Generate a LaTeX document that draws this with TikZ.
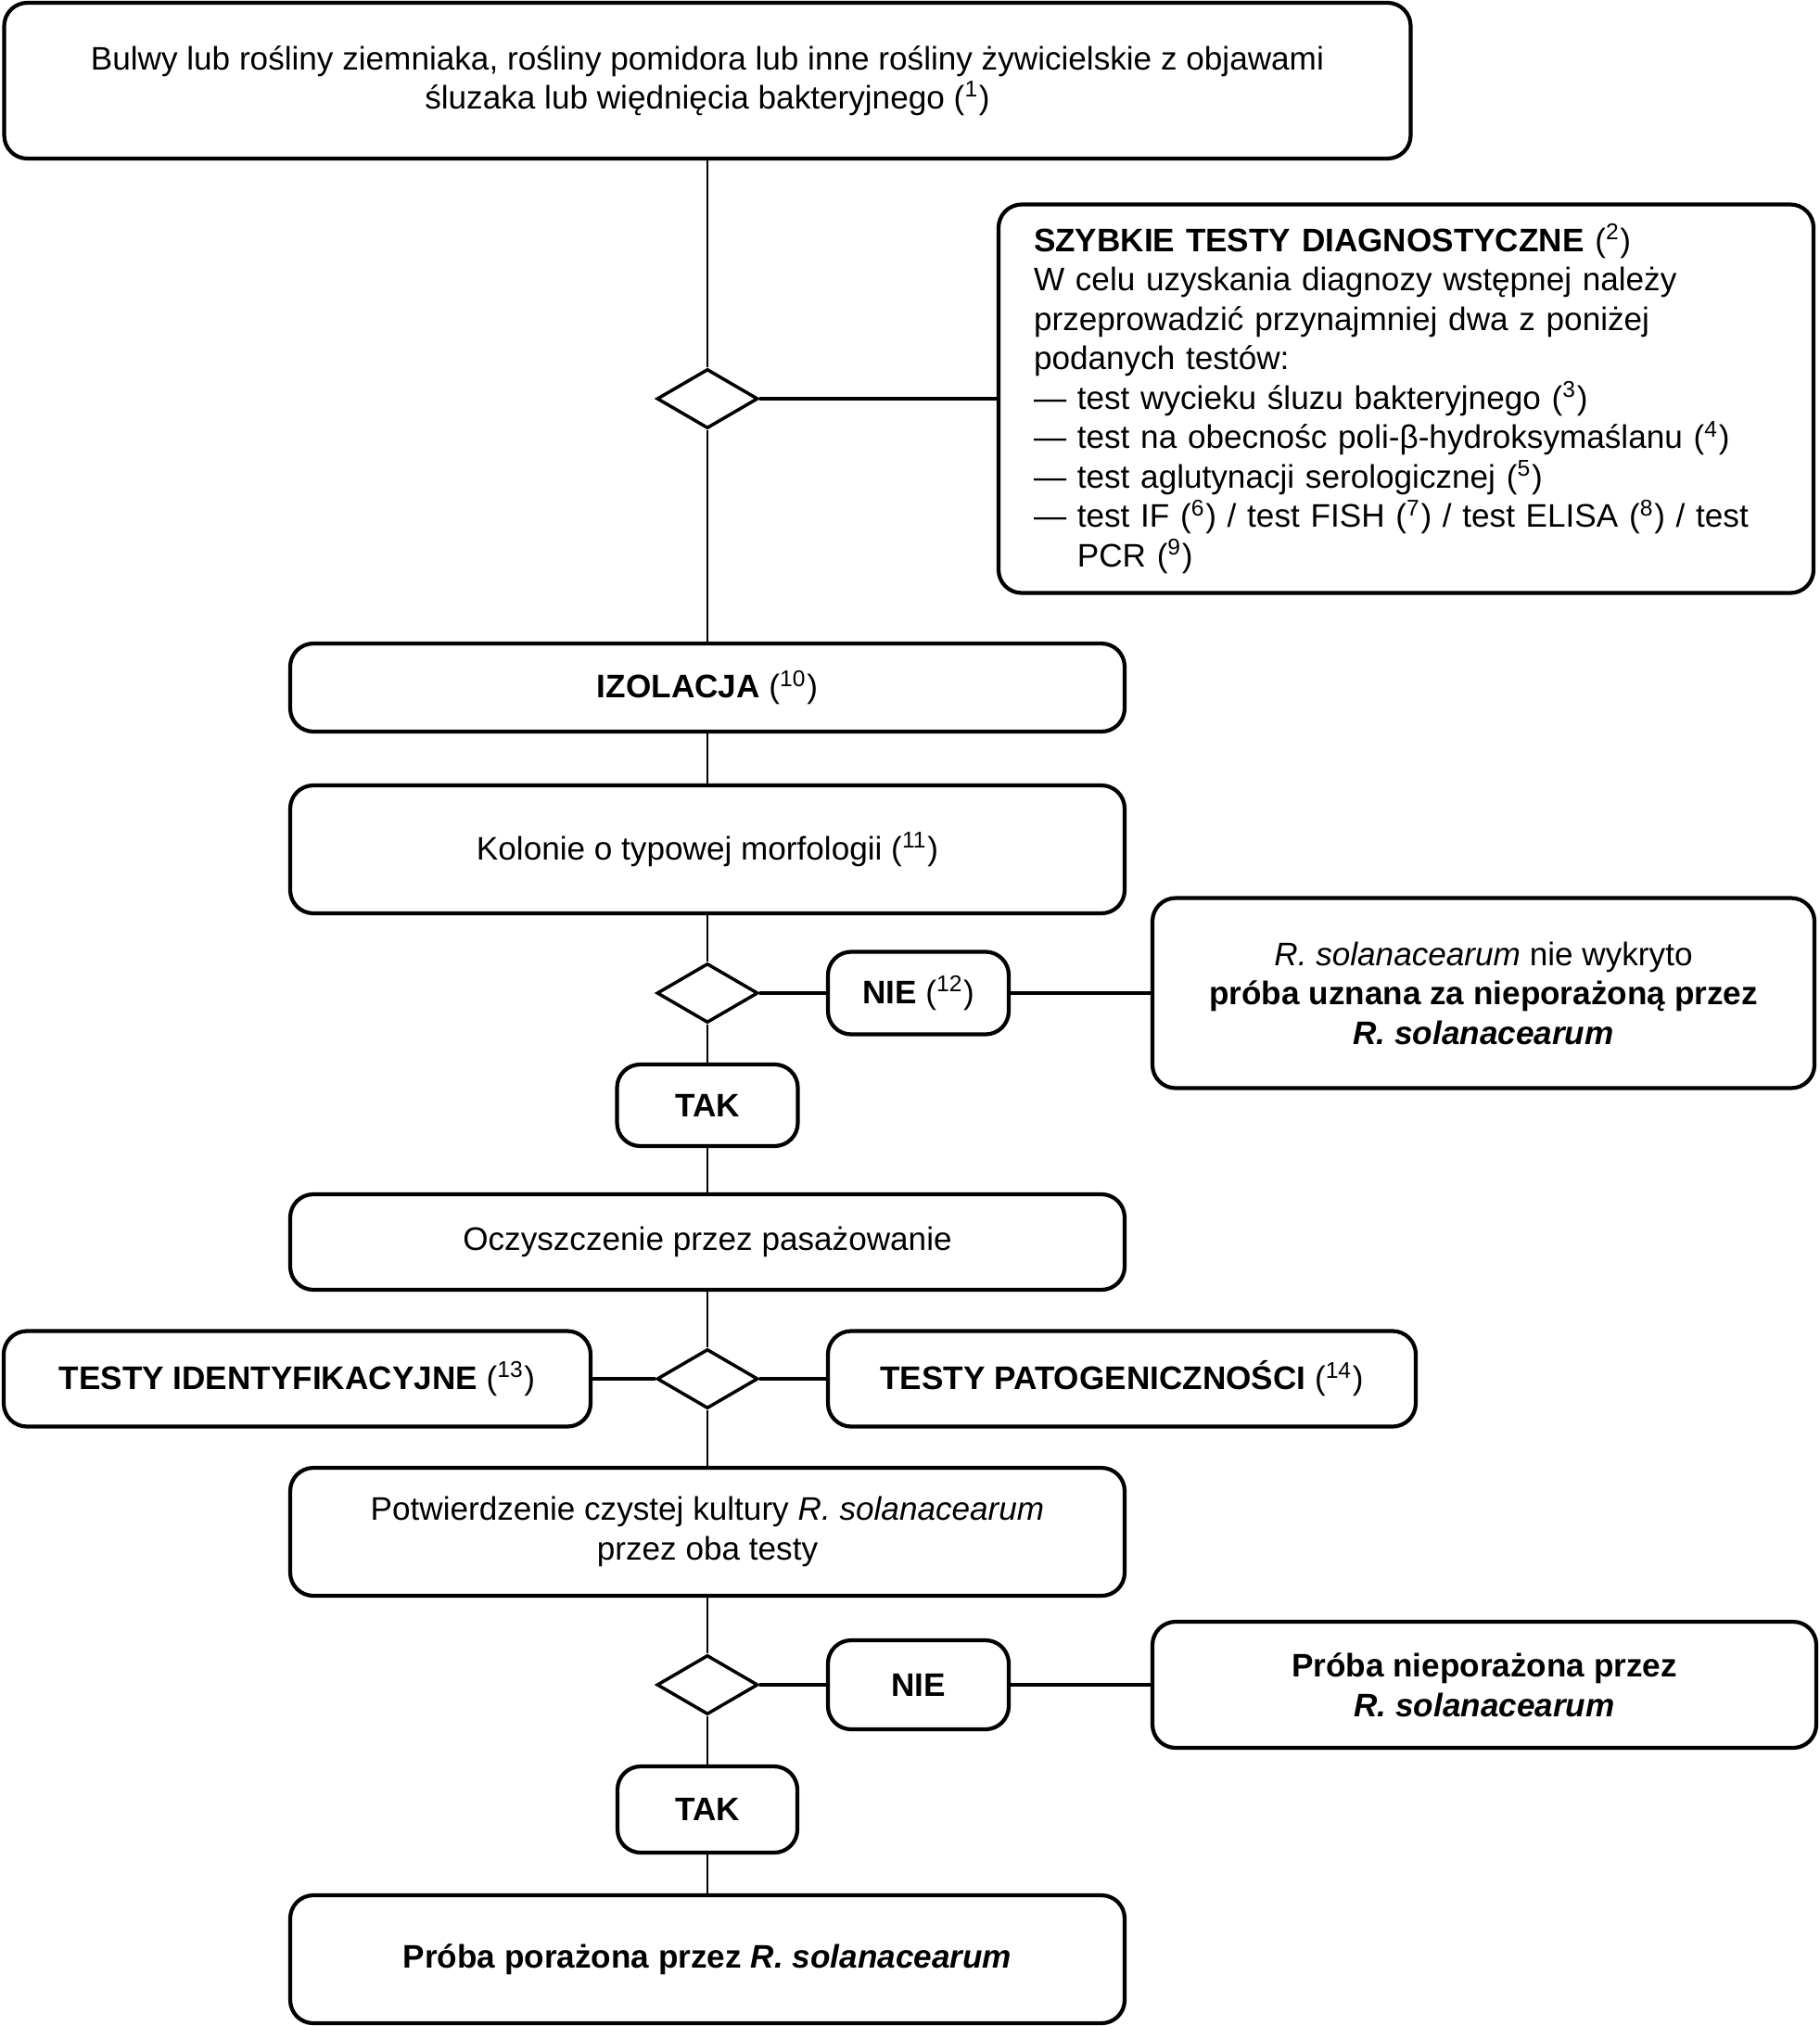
\documentclass[tikz,border=0pt]{standalone}
\usepackage{fontspec}
\setmainfont{Liberation Sans}
\usetikzlibrary{shapes.geometric}

\newcommand{\przyp}[1]{(\textsuperscript{#1})}
\newcommand{\rsol}{\textit{R.~solanacearum}}

\tikzset{
  krok/.style={draw, line width=1.2pt, rounded corners=0.25cm, align=center,
    font=\fontsize{10}{12.1}\selectfont, inner sep=0pt},
  romb/.style={draw, diamond, line width=1pt, inner sep=0pt,
    minimum width=1.09cm, minimum height=0.64cm},
  pion/.style={line width=0.8pt},
  poziom/.style={line width=1pt}
}

\begin{document}
\begin{tikzpicture}
  \useasboundingbox (0,0) rectangle (19.62,-21.85);

  \node[krok, minimum width=15.17cm, minimum height=1.68cm] (start) at (7.63,-0.87)
    {Bulwy lub rośliny ziemniaka, rośliny pomidora lub inne rośliny żywicielskie z objawami\\
     śluzaka lub więdnięcia bakteryjnego \przyp{1}};

  \node[romb] (d1) at (7.63,-4.30) {};
  \node[krok, minimum width=8.79cm, minimum height=4.19cm, text width=8.03cm, align=left]
    (szybkie) at (15.165,-4.30)
    {\textbf{SZYBKIE TESTY DIAGNOSTYCZNE} \przyp{2}\\
     W celu uzyskania diagnozy wstępnej należy\\
     przeprowadzić przynajmniej dwa z poniżej\\
     podanych testów:\\
     — test wycieku śluzu bakteryjnego \przyp{3}\\
     — test na obecnośc poli-β-hydroksymaślanu \przyp{4}\\
     — test aglutynacji serologicznej \przyp{5}\\
     — test IF \przyp{6} / test FISH \przyp{7} / test ELISA \przyp{8} / test\\
     \phantom{— }PCR \przyp{9}};

  \node[krok, minimum width=9cm, minimum height=0.95cm] (izolacja) at (7.63,-7.415)
    {\textbf{IZOLACJA} \przyp{10}};
  \node[krok, minimum width=9cm, minimum height=1.38cm] (kolonie) at (7.63,-9.16)
    {Kolonie o typowej morfologii \przyp{11}};

  \node[romb] (d2) at (7.63,-10.71) {};
  \node[krok, minimum width=1.95cm, minimum height=0.89cm] (nie1) at (9.905,-10.71)
    {\textbf{NIE} \przyp{12}};
  \node[krok, minimum width=7.14cm, minimum height=2.05cm] (wynik1) at (16.0,-10.71)
    {\rsol{} nie wykryto\\
     \textbf{próba uznana za nieporażoną przez}\\
     \textbf{\rsol}};
  \node[krok, minimum width=1.95cm, minimum height=0.88cm] (tak1) at (7.63,-11.92)
    {\textbf{TAK}};

  \node[krok, minimum width=9cm, minimum height=1.03cm] (oczyszczenie) at (7.63,-13.395)
    {Oczyszczenie przez pasażowanie};

  \node[romb] (d3) at (7.63,-14.87) {};
  \node[krok, minimum width=6.33cm, minimum height=1.03cm] (ident) at (3.205,-14.87)
    {\textbf{TESTY IDENTYFIKACYJNE} \przyp{13}};
  \node[krok, minimum width=6.34cm, minimum height=1.03cm] (pato) at (12.1,-14.87)
    {\textbf{TESTY PATOGENICZNOŚCI} \przyp{14}};

  \node[krok, minimum width=9cm, minimum height=1.38cm] (potw) at (7.63,-16.52)
    {Potwierdzenie czystej kultury \rsol\\
     przez oba testy};

  \node[romb] (d4) at (7.63,-18.17) {};
  \node[krok, minimum width=1.95cm, minimum height=0.96cm] (nie2) at (9.905,-18.17)
    {\textbf{NIE}};
  \node[krok, minimum width=7.16cm, minimum height=1.36cm] (wynik2) at (16.01,-18.17)
    {\textbf{Próba nieporażona przez}\\
     \textbf{\rsol}};
  \node[krok, minimum width=1.94cm, minimum height=0.93cm] (tak2) at (7.63,-19.515)
    {\textbf{TAK}};

  \node[krok, minimum width=9cm, minimum height=1.38cm] (koniec) at (7.63,-21.13)
    {\textbf{Próba porażona przez \rsol}};

  \draw[pion] (start) -- (d1) -- (izolacja) -- (kolonie) -- (d2) -- (tak1) -- (oczyszczenie)
    -- (d3) -- (potw) -- (d4) -- (tak2) -- (koniec);

  \draw[poziom] (d1) -- (szybkie);
  \draw[poziom] (d2) -- (nie1) -- (wynik1);
  \draw[poziom] (ident) -- (d3) -- (pato);
  \draw[poziom] (d4) -- (nie2) -- (wynik2);
\end{tikzpicture}
\end{document}
